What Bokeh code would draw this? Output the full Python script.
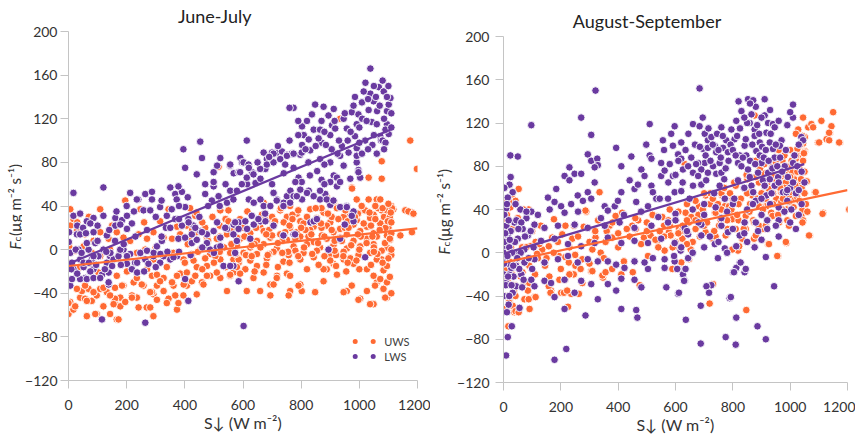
from math import pi
from bokeh.plotting import figure
from bokeh.models import Label, Range1d
from bokeh.layouts import row
from bokeh.core.properties import value
from bokeh.embed import file_html
from bokeh.resources import INLINE

ORANGE = "#FF6A33"
PURPLE = "#6A3AA0"
AXIS_GRAY = "#C4C4C4"
TEXT = "#333333"
FONT = "Lato"

X_TICKS = [0, 200, 400, 600, 800, 1000, 1200]
Y_TICKS = [-120, -80, -40, 0, 40, 80, 120, 160, 200]
Y_MIN, Y_MAX = -120, 200
X_MIN, X_MAX = 0, 1200
X_LABEL = "S\u2193 (W m\u207b\u00b2)"
Y_LABEL_PARTS = ["F", "c", " (\u00b5g m\u207b\u00b2 s\u207b\u00b9)"]
TITLES = ["June-July", "August-September"]
SERIES_NAMES = ["UWS", "LWS"]

# ---------------- June-July, UWS (orange) ----------------
JJ_UWS = [
    (0,-59),(6,-48),(17,-55),(40,-44),(57,-45),(80,-47),(97,-42),(63,-61),(97,-59),(46,-38),
    (69,-36),(109,-36),(132,-39),(160,-35),(178,-44),(160,-50),(143,-59),(166,-64),(178,-52),(195,-48),
    (160,-45),(189,-33),(235,-44),(269,-53),(258,-33),(224,-30),(287,-24),(304,-33),(327,-26),(292,-41),
    (327,-38),(281,-53),(292,-61),(344,-45),(361,-33),(384,-22),(395,-42),(407,-33),(424,-29),(373,-55),
    (441,-41),(459,-30),(487,-24),(476,-15),(522,-26),(545,-38),(556,-24),(567,-21),(585,-12),(613,-38),
    (636,-26),(659,-38),(694,-32),(717,-24),(751,-22),(762,-38),(802,-38),(797,-32),(848,-39),(877,-29),
    (888,-18),(911,-13),(946,-9),(957,-38),(980,-13),(1003,-45),(1026,-38),(1049,-50),(1060,-30),(1083,-19),
    (1095,-44),(1141,13),(1181,16),
    (1077,81),(1198,74),(1032,66),(1077,65),(974,57),(888,48),(991,46),(1032,46),(1060,46),(1077,36),
    (1117,37),(1158,36),(1181,34),(671,43),(762,40),
    (608,-18),(648,-15),(671,-21),(716,-26),(705,-32),(762,-24),(791,-33),(694,-42),(757,-42),(877,-18),
    (923,-23),(946,-39),(974,-33),(997,-46),(1037,-50),(1026,-18),(1049,-24),(1072,-27),(1054,-33),(1083,-36),
    (1095,-30),(1089,-44),(1077,-9),(1095,-15),(556,-24),(579,-16),
    (728,36),(785,33),(831,37),(877,34),(923,38),(957,33),(1014,36),(1049,32),(1095,37),
    (682,27),(751,30),(797,26),(854,29),(900,25),(946,30),(991,27),(1037,29),(1083,26),
    (659,21),(705,23),(762,20),(808,24),(843,21),(888,22),(934,19),(980,23),(1026,21),(1072,24),(1100,20),
    (625,15),(671,17),(728,14),(785,16),(831,18),(871,13),(911,16),(957,14),(1003,17),(1049,15),(1095,13),
    (590,10),(648,8),(694,11),(751,9),(797,12),(843,7),(888,10),(934,11),(980,8),(1026,10),(1060,12),(1106,9),
    (579,4),(625,2),(671,5),(716,1),(774,3),(820,5),(865,2),(911,4),(957,1),(1003,3),(1049,5),(1095,2),
    (602,-3),(648,-4),(705,-2),(757,-5),(808,-3),(854,-1),(900,-4),(946,-2),(997,-5),(1037,-3),(1077,-1),
    (567,-9),(625,-10),(682,-8),(739,-11),(797,-9),(843,-7),(900,-10),(969,-8),(1060,-9),
    (700,30),(740,25),(770,32),(815,18),(860,25),(905,30),(950,20),(995,33),(1040,22),(1085,30),
    (1110,15),(650,25),(690,18),(735,8),(780,-1),(825,12),(870,20),(915,8),(960,26),(1005,12),
    (1050,2),(1090,20),(1110,-5),(640,5),(700,13),(760,22),(880,-6),(1020,36),(1065,38),(1105,30),
    (1110,40),(990,-10),(920,-5),(870,38),(600,20),(560,5),(540,28),(520,12),(610,-5),(955,-20),
    (1105,-25),(1110,-40),(1100,-8),
    (6,37),(17,28),(109,37),(195,45),(247,37),(315,26),(344,37),(373,21),(407,22),(436,31),
    (522,36),(550,26),
    (6,22),(29,17),(57,14),(86,8),(109,16),(138,10),(166,16),(189,11),(212,8),(241,14),
    (270,10),(292,16),(327,11),(356,10),(384,14),(413,11),(441,16),(476,11),(510,10),(545,14),(579,11),
    (2,3),(23,-1),(52,3),(80,-3),(109,-6),(143,0),(178,-1),(201,-7),(235,-3),(264,0),
    (292,-9),(327,-6),(361,-3),(396,-9),(424,-4),(453,0),(487,-4),(522,-9),(556,-3),(585,-9),
    (6,-12),(40,-16),(75,-13),(103,-21),(132,-16),(166,-24),(201,-20),(235,-26),(270,-18),(304,-23),
    (338,-16),(373,-24),(407,-21),(441,-16),(476,-24),(510,-21),(556,-23),
    (0,-30),(29,-36),(57,-33),(86,-39),(120,-35),(143,-42),(184,-33),(218,-42),(252,-32),(287,-39),
    (315,-29),(356,-30),(367,-42),(396,-32),(436,-24),(464,-32),
    (0,-49),(23,-52),(63,-47),(92,-59),(120,-52),(155,-50),(172,-64),(218,-44),(241,-53),(281,-39),
    (304,-46),(338,-49),(378,-49),
    (418,38),(440,34),(516,76),(912,44),(1055,40),(1072,46),(1095,36),(1112,38),(1169,35),(1186,33),
    (934,120),(1175,100),(975,56),(30,25),(70,30),(150,22),(260,25),(300,2),(400,-12),(470,20),
    (410,5),(425,18),(445,-2),(460,25),(480,8),(495,30),(505,-6),(520,22),(535,2),(550,36),
    (565,18),(575,-4),(590,28),(605,12),(615,35),(630,-6),(645,20),(660,2),(665,32),(680,14),
    (690,-4),(710,26),(720,6),(730,38),(745,16),(755,-2),(770,28),(780,10),(790,36),(800,20),
    (810,2),(820,30),(835,14),(850,38),(858,6),(868,24),(880,12),(892,33),(905,18),(915,-1),
    (928,28),(940,8),(952,36),(963,20),(972,4),(985,30),(995,14),(1008,40),(1015,24),(1025,6),
    (1035,34),(1045,12),(1055,28),(1062,-4),(1070,18),(1080,38),(1088,6),(1098,26),(1105,10),(1108,34),
    (1080,-12),(1040,-14),(1000,-18),(960,-12),(920,-15),(860,-14),(820,-18),(760,-12),(720,-16),(680,-14),
    (640,-20),(590,-22),(540,-16),(500,-12),(460,-18),(430,-10),(1110,25),(1110,0),(1100,42),(1050,-2),
    (1000,0),(945,-6),(895,0),(838,-4),(790,-6),(735,-3),(685,-5),(630,4),(580,20),(520,-2),(470,-8),
]

# ---------------- June-July, LWS (purple) ----------------
JJ_LWS = [
    (17,52),(120,57),(212,52),(240,46),(264,51),(287,53),(350,57),(367,51),(390,53),(395,92),
    (401,75),(453,99),(459,84),(441,69),(470,60),(499,71),(511,77),(522,84),(499,58),(516,49),
    (556,77),(568,70),(585,71),(591,84),(613,100),(597,80),(614,60),(631,71),(643,61),(660,65),
    (677,74),(682,83),(700,89),(717,89),(734,90),(751,87),(768,88),(774,75),(774,130),(797,87),
    (803,96),(803,113),(809,105),(826,101),(843,110),(837,124),(848,133),(865,110),(871,98),(877,131),
    (894,123),(900,105),(906,114),(912,129),(917,111),(946,120),(957,111),(974,126),(980,132),(991,115),
    (997,124),(1009,135),(1021,153),(1032,128),(1038,143),(1038,166),(1043,117),(1049,136),(1061,127),(1067,149),
    (1072,104),(1084,145),(1095,127),(1101,133),(1107,139),(1095,115),(1101,106),(991,93),(991,80),(997,73),
    (1003,66),(620,46),(637,43),(660,46),(671,40),(705,52),(717,46),(740,43),(751,49),(763,54),
    (774,49),(803,46),(826,54),(843,49),(865,46),(883,51),(900,41),(912,68),(923,58),(946,77),
    (969,65),(957,40),(980,35),
    (264,-67),(115,-64),(6,-33),(17,31),(40,33),(63,26),(86,29),(120,31),(161,29),(184,27),
    (201,31),(218,24),(235,46),(287,46),(258,36),(281,36),(315,39),(378,58),(372,46),(338,31),
    (367,28),(401,39),(412,28),(499,62),(470,51),(493,45),(545,43),(556,54),
    (430,22),(453,17),(476,14),(499,17),(522,11),(545,19),(567,14),(579,8),(424,6),(441,9),
    (470,3),(487,0),(510,2),(533,-15),(567,-15),(401,-27),(412,-47),
    (2,16),(1,7),(6,-3),(12,-12),(29,14),(35,0),(40,-9),(52,-16),(58,-26),(69,0),
    (80,-9),(86,-18),(92,6),(103,-6),(120,0),(132,-12),(138,-21),(143,-6),(155,-9),(172,-6),
    (189,0),(201,-13),(212,-4),(229,-12),(247,-3),(264,-9),(275,-13),(292,-6),(315,-12),(327,-6),
    (350,-9),(373,-6),(12,-27),(40,-27),(63,-27),(86,-26),(115,-23),(138,-32),
    (75,-20),(109,-26),(17,-18),(52,-12),(86,-6),(40,14),(63,6),(86,16),(144,-3),(178,0),
    (201,-6),(132,13),(161,22),(178,23),(201,19),(138,-30),(270,-1),(293,-3),(316,-4),(236,-12),
    (218,-18),(236,-21),(304,3),(321,8),(378,10),(401,11),(424,14),(390,22),(413,25),(436,20),
    (459,16),(361,-7),(476,6),(522,3),(573,-3),(511,25),(539,20),(568,23),(585,25),(614,19),
    (637,23),(660,26),(677,26),(705,22),(740,13),(832,25),(843,26),(774,14),(894,0),(950,23),
    (1020,-7),(980,26),(585,-29),(602,-70),
    (556,-15),(625,10),(739,13),(779,14),(854,28),(934,10),(567,46),(579,54),(596,60),(613,66),
    (636,69),(659,74),(682,78),(705,80),(728,83),(751,86),(774,88),(802,89),(831,91),(865,83),
    (900,80),(934,86),(963,89),(991,86),(1009,88),(573,25),(585,19),(608,26),(630,31),(653,28),
    (676,33),(694,40),(716,45),(739,40),(762,43),(785,49),(797,55),(820,52),(843,49),(865,54),
    (888,46),(911,45),(934,39),(957,39),(974,31),(556,78),(590,71),(602,80),(619,78),(671,89),
    (705,88),(745,78),(791,66),(802,62),(900,62),(923,66),(934,62),(997,71),
    (30,22),(50,20),(75,24),(100,22),(140,18),(165,35),(200,40),(225,35),(300,30),(320,45),
    (335,20),(355,37),(380,28),
    (1050,105),(1060,115),(1075,100),(1085,120),(1090,110),(1045,96),(1020,100),(1010,120),(1000,98),(985,104),
    (960,100),(940,95),(925,88),(905,92),(885,96),(870,118),(860,102),(820,118),(790,118),(760,130),
    (825,80),(855,72),(870,64),(880,60),(1030,138),(1057,140),(1070,132),(1080,100),(1090,98),(1100,150),
    (620,75),(650,80),(690,85),(720,95),(760,100),(790,105),(815,92),(850,95),(880,108),(915,118),
    (950,125),(985,140),(1015,145),(1050,150),(1080,155),(1095,140),(1110,125),(1110,112),(1085,92),(1060,88),
    (1030,92),(700,60),(740,70),(780,62),(830,68),(880,78),(930,100),(970,108),(1000,112),(1025,118),
    (540,60),(520,40),(480,40),(450,30),(410,48),(380,40),(350,20),(320,12),(270,18),(230,12),
    (190,5),(160,8),(130,-2),(100,8),(60,15),(25,0),(10,-18),(30,-22),(45,-3),(70,-12),
    (95,-14),(125,-18),(150,-15),(180,-14),(260,-20),(300,-16),(340,-2),(380,-2),(420,-5),(460,2),
    (500,-3),
]

# ---------------- August-September, UWS (orange) ----------------
AS_UWS = [
    (53,59),(38,46),(21,46),(30,54),(335,56),(289,38),(632,82),(876,127),(969,56),(999,76),
    (1016,80),(1028,90),(1045,125),(1063,116),(1074,119),(1080,116),(1051,94),(1051,107),(1045,101),(1109,122),
    (1097,102),(1127,105),(1138,111),(1150,130),(1144,117),(1173,102),(1028,114),(1086,56),(1115,37),(1208,40),
    (1039,34),(1016,74),(1022,67),(1033,62),(1010,50),(993,67),(999,43),(969,71),(981,63),(952,50),
    (969,47),(987,40),(917,43),(934,37),(900,42),(737,37),(772,43),(993,80),
    (0,-53),(17,-68),(38,-55),(32,-49),(21,-45),(73,-43),(108,-41),(91,-52),(85,-35),(166,-35),
    (201,-37),(236,-38),(225,-50),(306,-17),(347,-23),(411,-20),(475,-30),(451,-18),(504,-3),(562,2),
    (603,6),(620,-9),(719,-47),(731,-29),(847,-53),(818,2),(923,8),(958,-3),(987,9),(1068,16),
    (1045,30),(905,22),(871,30),
    (24,42),(42,48),(19,47),(88,40),(176,31),(216,25),(246,25),(286,39),(391,34),(414,37),
    (449,25),(461,22),(531,34),(554,33),(490,14),(513,16),(536,11),(577,19),(321,14),(356,10),
    (379,14),(310,3),(339,0),(170,14),(205,17),(240,13),(112,10),(135,3),(158,6),(345,-21),
    (356,-18),(379,-15),(310,-17),(158,-31),(164,-37),(211,-37),(222,-35),(263,-38),(88,-43),(112,-41),
    (42,-40),(19,-46),(7,-52),(42,-54),(53,-55),
    (48,13),(77,16),(65,5),(94,6),(117,-1),(30,22),(7,19),(36,28),(193,-3),(216,-4),
    (228,-9),(251,-12),(269,-15),(275,-6),
    (1101,102),(1136,104),(1171,102),(1043,108),(1136,111),(1049,93),(1031,79),(1014,68),(1031,63),(967,59),
    (996,53),(1025,51),(1043,40),(1089,56),(1113,36),(1206,40),(1066,16),(985,10),(926,8),(874,13),
    (955,-3),(612,-15),(589,-15),(647,-6),(653,3),(798,3),(822,6),
    (845,22),(891,25),(938,34),(973,40),(996,47),(915,50),(868,53),(950,68),(973,71),(1008,74),
    (891,43),(845,34),(798,31),(752,25),(705,19),(670,22),(624,13),(600,10),(729,13),(775,16),
    (810,22),(833,13),(880,16),(915,25),(961,28),(996,25),(1020,34),(1043,28),(1008,59),(985,65),
    (926,59),(891,65),(857,59),(822,50),(787,43),(740,37),(694,31),(647,28),(612,22),(583,16),
    (635,37),(682,43),(705,53),(763,53),(810,62),(851,68),(903,74),(938,80),(973,85),(1020,87),
    (1025,96),(950,84),
    (0,-30),(5,-15),(8,0),(10,15),(4,28),(14,-25),(20,-8),(26,5),(12,35),(30,-20),
    (36,-35),(44,-10),(50,0),(58,22),(66,-18),(72,-28),(80,5),(90,-12),(100,20),(110,-20),
    (120,-5),(130,25),(145,-12),(160,-22),(175,0),(190,10),(200,-15),(215,-25),(230,5),(245,-20),
    (260,15),(275,-28),(300,-10),(320,20),(350,-5),(370,25),(400,5),(420,-8),(440,15),(470,30),
    (500,20),(520,35),(540,5),(560,25),(580,40),(600,30),(620,20),(640,45),(660,10),(680,35),
    (700,25),(720,45),(740,15),(760,55),(780,30),(800,50),(820,30),(840,60),(860,45),(880,70),
    (900,55),(920,65),(940,55),(960,80),(980,60),(1000,70),(1020,90),(1040,60),(1050,75),
    (560,15),(575,30),(590,5),(610,38),(625,25),(640,8),(655,33),(670,48),(685,15),(695,40),
    (710,28),(722,55),(735,20),(748,45),(758,30),(770,60),(782,22),(795,40),(805,65),(815,35),
    (828,50),(838,22),(848,72),(858,38),(866,58),(875,28),(885,50),(895,78),(905,40),(912,62),
    (922,30),(932,70),(940,45),(948,88),(958,35),(965,60),(975,50),(983,72),(990,30),(998,56),
    (1005,85),(1012,42),(1018,62),(1025,75),(1032,48),(1038,68),(1045,85),(1050,55),(1055,45),(1060,38),
    (1058,66),(1048,92),(1035,100),(1020,110),(1000,95),(980,90),(960,95),(940,72),(910,82),(880,85),
    (850,55),(820,45),(790,55),(760,40),(730,50),(700,55),(670,30),(640,30),(610,18),(580,25),
    (545,20),(530,12),(500,28),(480,8),(460,32),(430,22),(400,18),(380,28),(360,20),(330,30),
    (300,10),(280,24),(250,-2),(230,-20),(195,-25),(150,-5),(125,8),(90,-28),(60,-22),(40,-30),
    (15,10),(25,-12),(8,-40),(50,32),(70,40),(3,48),
]

# ---------------- August-September, LWS (purple) ----------------
AS_LWS = [
    (24,90),(50,89),(97,118),(21,63),(32,56),(15,51),(9,41),(59,40),(97,38),(271,125),
    (306,109),(321,150),(294,91),(306,85),(327,87),(329,81),(318,79),(230,79),(213,71),(230,67),
    (248,73),(271,73),(201,43),(213,37),(236,45),(155,51),(161,40),(184,59),(178,47),(259,53),
    (277,48),(294,56),(306,50),(318,65),(353,43),(364,39),(388,43),(399,48),(393,97),(411,80),
    (411,56),(440,67),(446,89),(457,59),(469,63),(463,47),(481,77),(492,71),(498,100),(510,90),
    (516,87),(510,119),(516,62),(521,56),(533,50),(504,43),(550,83),(550,71),(545,50),(562,76),
    (580,82),(591,71),(597,56),(556,104),(574,50),(591,99),(597,117),(609,91),(620,57),(626,77),
    (620,87),(620,102),(644,80),(649,50),(661,119),(661,74),(661,62),(684,152),(684,117),(702,110),
    (696,96),(702,83),(679,83),(690,77),(679,71),(690,63),(707,67),(713,74),(713,104),(713,97),
    (725,107),(737,99),(742,93),(731,80),(742,73),(754,83),(760,74),(754,62),(772,50),(766,97),
    (783,93),(777,104),(760,116),(795,114),(806,105),(812,122),(818,83),(818,67),(830,80),(824,90),
    (841,99),(847,90),(853,77),(859,70),(865,62),(871,56),(830,131),(853,142),(871,141),(859,120),
    (865,128),(876,114),(876,108),(894,102),(882,94),(894,90),(900,83),(888,74),(905,67),(911,62),
    (917,53),(911,142),(911,127),(923,120),(917,111),(929,102),(940,96),(946,88),(923,74),(929,68),
    (946,62),(958,70),(940,119),(946,116),(970,104),(964,99),(981,80),(975,56),(987,56),(1010,137),
    (1010,83),(1010,125),(1039,107),(1045,104),(1004,40),
    (9,-95),(15,-78),(29,-68),(0,-40),(32,-37),(56,-51),(178,-99),(219,-89),(213,-52),(286,-58),
    (411,-52),(463,-53),(467,-60),(636,-62),(688,-84),(775,-78),(789,-42),(810,-85),(812,-60),(886,-68),
    (915,-80),(944,-31),(915,-4),(725,-30),(708,-31),
    (97,-25),(143,-26),(166,-28),(213,-25),(271,-26),(306,-29),(364,-29),(411,-24),(457,-25),(504,-15),
    (562,-14),(609,-15),(626,-20),(632,-26),(568,-32),(609,-38),(481,-32),(393,-35),(329,-43),(248,-37),
    (178,-41),(108,-31),(62,-20),(44,-31),(9,-28),(21,-20),(27,-14),(44,-12),(73,-9),(108,-6),
    (143,-9),(190,-6),(225,-3),(259,-9),(294,-6),(329,-8),(364,-8),(393,-11),(422,-14),(457,-8),
    (492,-9),(521,-5),(562,-6),(597,-8),(644,-5),(748,-5),(772,4),(812,6),(824,-9),(812,-14),
    (841,-18),(801,-18),(824,16),(783,19),(737,8),(690,16),(644,17),(597,9),(550,13),(504,9),
    (457,11),(411,9),(364,14),(318,9),(271,6),(225,8),(178,13),(131,11),(85,16),(50,13),
    (15,16),(9,5),(38,0),(73,3),(3,25),(38,28),(67,22),(108,26),(143,23),(190,25),
    (248,26),(294,23),(353,25),(405,28),(457,23),(516,25),(574,28),(632,23),(690,26),(760,25),
    (841,28),(888,20),(876,5),
    (80,32),(120,35),(260,38),(340,32),(420,35),(480,38),(540,33),(600,36),(660,40),(700,35),
    (740,42),(780,38),(800,45),(850,40),(880,48),(900,35),(930,45),(960,42),(990,48),(1020,55),
    (1040,45),(960,30),(920,30),
    (0,-20),(5,-5),(5,10),(10,25),(3,35),(15,-10),(20,5),(25,20),(8,-30),(12,45),
    (18,30),(30,0),(35,-22),(40,10),(45,30),(55,-15),(60,0),(62,28),(70,-25),(75,15),
    (80,38),(88,-5),(95,20),(100,-15),(105,5),(3,60),(20,-40),(12,-55),(28,-30),(0,0),
    (2,-10),(6,18),(14,-3),(22,12),(16,-22),(34,-12),(48,-5),(52,22),(65,-32),(42,45),
    (25,70),(18,-48),
    (804,-18),(827,-9),(845,-15),(793,-41),(717,-37),(688,-49),(612,-37),(635,-15),(606,-15),(630,-26),
    (595,-3),(618,2),
    (600,30),(640,20),(680,28),(720,15),(760,32),(800,22),(840,18),(880,28),(920,22),(960,15),
    (1000,28),(1030,35),(700,5),(750,10),(850,10),(900,12),(950,25),(980,38),(1020,22),(620,5),
    (660,0),(780,0),
    (560,95),(575,65),(585,110),(600,72),(610,85),(625,65),(635,95),(645,110),(655,88),(668,100),
    (672,82),(685,98),(695,125),(705,90),(715,115),(722,85),(730,100),(745,110),(750,95),(758,88),
    (765,108),(775,78),(785,85),(792,100),(800,95),(810,90),(815,108),(825,115),(835,88),(845,105),
    (850,120),(860,85),(868,100),(878,82),(885,118),(892,110),(902,98),(908,88),(915,95),(925,85),
    (932,110),(938,78),(950,100),(955,80),(965,88),(972,75),(985,95),(992,70),(1000,60),(1015,90),
    (1025,80),(1030,100),(1040,75),(1050,65),(700,45),(735,55),(770,68),(805,50),(840,60),(870,45),
    (900,50),(935,55),(960,65),(990,58),(1010,65),(1030,58),(880,135),(900,125),(930,132),(960,122),
    (990,118),(1000,130),(860,138),(840,125),(820,140),
]

# trend lines: (intercept, slope, last x)
JJ_UWS_TREND = (-15.0, 0.0288, 1200)
JJ_LWS_TREND = (-13.0, 0.1111, 1107)
AS_UWS_TREND = (-9.0, 0.0558, 1200)
AS_LWS_TREND = (-1.0, 0.0791, 1049)

CANVAS_H = 438


def split(points):
    return [p[0] for p in points], [p[1] for p in points]


def trend_xy(trend):
    b, m, x_end = trend
    return [0, x_end], [b, b + m * x_end]


def no_align(f):
    if "frame_align" in f.properties():
        f.frame_align = False
    return f


def blank(w, h):
    f = figure(width=w, height=h, min_border=0, x_axis_type=None, y_axis_type=None,
               toolbar_location=None, output_backend="svg",
               x_range=Range1d(0, w), y_range=Range1d(0, h))
    f.outline_line_color = None
    f.background_fill_color = "white"
    f.border_fill_color = "white"
    return no_align(f)


def panel(title, title_cx, title_base, uws, lws, t_uws, t_lws, fw, axis_h, pad_top, bl, br,
          y_standoff, legend):
    """fw: frame width; axis_h: pixel height of the -120..200 axis;
    pad_top: pixels above the 200 tick (title room, inside the frame)."""
    fh = axis_h + pad_top
    sy = (Y_MAX - Y_MIN) / axis_h
    sx = (X_MAX - X_MIN) / fw
    y_top = Y_MAX + pad_top * sy
    p = figure(frame_width=fw, frame_height=fh, min_border_left=bl, min_border_top=0,
               min_border_right=br, min_border_bottom=CANVAS_H - fh, output_backend="svg",
               toolbar_location=None, x_range=Range1d(X_MIN, X_MAX),
               y_range=Range1d(Y_MIN, y_top))
    no_align(p)
    p.outline_line_color = None
    p.xgrid.visible = False
    p.ygrid.visible = False
    p.background_fill_color = "white"
    p.border_fill_color = "white"
    for ax in (p.xaxis[0], p.yaxis[0]):
        ax.axis_line_color = AXIS_GRAY
        ax.major_tick_line_color = AXIS_GRAY
        ax.minor_tick_line_color = None
        ax.major_tick_out = 8
        ax.major_tick_in = 0
        ax.major_label_text_font = FONT
        ax.major_label_text_font_size = "14px"
        ax.major_label_text_color = TEXT
    p.xaxis.ticker = X_TICKS
    p.yaxis.ticker = Y_TICKS
    p.yaxis.bounds = (Y_MIN, Y_MAX)
    p.yaxis.major_label_standoff = y_standoff
    p.xaxis.major_label_standoff = 11
    p.xaxis.axis_label = X_LABEL
    p.xaxis.axis_label_text_font = FONT
    p.xaxis.axis_label_text_font_size = "16px"
    p.xaxis.axis_label_text_font_style = "normal"
    p.xaxis.axis_label_text_color = TEXT
    p.xaxis.axis_label_standoff = 0

    ux, uy = split(uws)
    lx, ly = split(lws)
    p.scatter(ux, uy, size=7.6, fill_color=ORANGE, line_color="white", line_width=0.9)
    p.scatter(lx, ly, size=7.6, fill_color=PURPLE, line_color="white", line_width=0.9)
    tx, ty = trend_xy(t_uws)
    p.line(tx, ty, line_color=ORANGE, line_width=2.2)
    tx, ty = trend_xy(t_lws)
    p.line(tx, ty, line_color=PURPLE, line_width=2.2)

    def X(px):
        return X_MIN + px * sx

    def Y(py):
        return y_top - py * sy

    p.add_layout(Label(x=X(title_cx), y=Y(title_base), text=title, text_align="center",
                       text_baseline="alphabetic", text_font=FONT, text_font_size="18px",
                       text_color="#222222"))

    if legend:
        for i, (name, col) in enumerate(zip(SERIES_NAMES, (ORANGE, PURPLE))):
            ly_ = Y(pad_top + 310 + 15 * i)
            p.scatter([X(286.7), X(304.7)], [ly_, ly_], size=5, fill_color=col, line_color=None)
            p.add_layout(Label(x=X(315.7), y=ly_, text=name, text_baseline="middle",
                               text_align="left", text_font=FONT, text_font_size="11px",
                               text_color="#404040"))
    return p


def y_label(fig, base_x, start_y):
    common = dict(angle=pi / 2, text_align="left", text_baseline="alphabetic", text_color=TEXT,
                  text_font=value(FONT))
    fig.text(x=[base_x], y=[start_y], text=[Y_LABEL_PARTS[0]], text_font_size=value("15px"),
             text_font_style="italic", **common)
    fig.text(x=[base_x + 2.5], y=[start_y + 8], text=[Y_LABEL_PARTS[1]],
             text_font_size=value("10px"), **common)
    fig.text(x=[base_x], y=[start_y + 13.5], text=[Y_LABEL_PARTS[2]],
             text_font_size=value("15px"), **common)


ylab1 = blank(22, CANVAS_H)
y_label(ylab1, 14, 189)
p1 = panel(TITLES[0], 146.2, 15.3, JJ_UWS, JJ_LWS, JJ_UWS_TREND, JJ_LWS_TREND,
           349, 349, 31, 38, 13, 3, True)
ylab2 = blank(24, CANVAS_H)
y_label(ylab2, 13, 184)
p2 = panel(TITLES[1], 143.5, 20.3, AS_UWS, AS_LWS, AS_UWS_TREND, AS_LWS_TREND,
           344, 346, 36, 44, 8, 6, False)

layout = row(ylab1, p1, ylab2, p2)
open("out.html", "w").write(file_html(layout, INLINE))
